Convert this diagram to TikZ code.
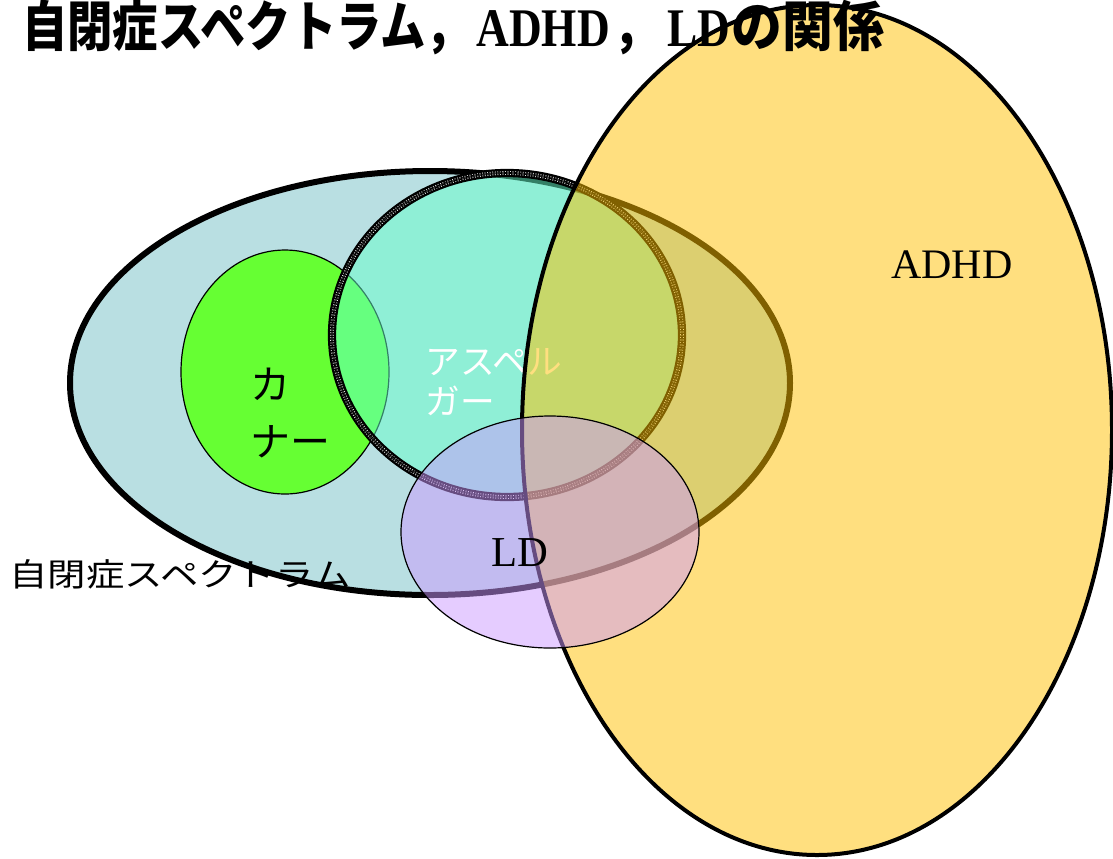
\documentclass[tikz,border=0pt]{standalone}
\usepackage{fontspec}
\usetikzlibrary{shapes.geometric}
\newfontfamily\cjk{Noto Sans CJK JP}
\newfontfamily\tms{Liberation Serif}
\definecolor{autfill}{RGB}{185,223,226}
\definecolor{kanfill}{RGB}{102,255,51}
\definecolor{aspfill}{RGB}{102,255,204}
\definecolor{adhdfill}{RGB}{255,192,0}
\definecolor{ldfill}{RGB}{204,153,255}
\tikzset{
  setshape/.style={ellipse, inner sep=0pt, outer sep=0pt},
  thinset/.style={setshape, draw=black, line width=0.9pt},
  checkborder/.style={draw=black, line width=6.2pt,
    postaction={draw=white, double=black, line width=0.6pt, double distance=1.6pt,
                dash pattern=on 0.6pt off 1.3pt}},
}
\begin{document}
\begin{tikzpicture}[x=0.75pt,y=-0.75pt]
\useasboundingbox (0,0) rectangle (1113,858);
% autism spectrum
\node[setshape, fill=autfill, draw=black, line width=4.5pt,
      minimum width=540pt, minimum height=318pt] (aut) at (430,383) {};
% Kanner
\node[thinset, fill=kanfill, minimum width=156pt, minimum height=183pt] (kan) at (285,372) {};
\node[font=\cjk\fontsize{30}{43}\selectfont, align=left, inner sep=0pt] (kanlabel) at (290,413) {カ\\ナー};
% Asperger
\node[setshape, fill=aspfill, fill opacity=0.5, checkborder,
      minimum width=262.5pt, minimum height=243pt] (asp) at (507,335) {};
\node[font=\cjk\fontsize{26}{30}\selectfont, text=white, align=left, inner sep=0pt] (asplabel) at (494,382) {アスペル\\ガー};
% ADHD
\node[setshape, fill=adhdfill, fill opacity=0.5, draw=black, line width=3pt,
      minimum width=442.5pt, minimum height=637.5pt] (adhd) at (817,430) {};
\node[font=\tms\fontsize{31.5}{37}\selectfont, anchor=base west, inner sep=0pt] (adhdlabel) at (891,278) {ADHD};
% LD
\node[thinset, fill=ldfill, fill opacity=0.5, minimum width=223.5pt, minimum height=174pt] (ld) at (550,532) {};
\node[font=\tms\fontsize{32}{37}\selectfont, anchor=base west, inner sep=0pt] (ldlabel) at (491,566) {LD};
% labels
\node[font=\cjk\fontsize{24}{28}\selectfont, anchor=west, inner sep=0pt] (autlabel) at (9,574) {\scalebox{1.2}[1]{自閉症スペクトラム}};
\node[font=\cjk\bfseries\fontsize{34}{40}\selectfont, anchor=base west, inner sep=0pt] (title) at (22,46)
  {\scalebox{1}[1.2]{自閉症スペクトラム，\kern4pt{\tms ADHD}\kern3pt，\kern6pt{\tms LD}\kern1pt\scalebox{1.12}[1]{の関係}}};
\end{tikzpicture}
\end{document}
